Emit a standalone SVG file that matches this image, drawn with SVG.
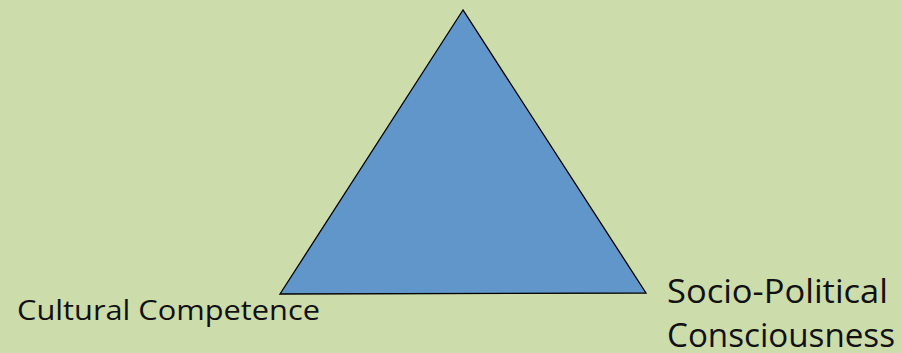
<svg xmlns="http://www.w3.org/2000/svg" width="902" height="353" viewBox="0 0 902 353">
<style>
.lbl{font-family:"Open Sans","Liberation Sans",sans-serif;fill:#111111}
.l{font-size:27px}
.r{font-size:33px}
</style>
<rect x="0" y="0" width="902" height="353" fill="#ccdcaa"/>
<g id="triangle">
<polygon points="463,10 280,294 646,293" fill="#6096c9" stroke="#000000" stroke-width="1.3"/>
</g>
<g id="connectors"></g>
<g id="cultural-competence">
<text class="lbl l" x="17" y="320" textLength="303" lengthAdjust="spacingAndGlyphs">Cultural Competence</text>
</g>
<g id="socio-political">
<text class="lbl r" x="667" y="303" textLength="221" lengthAdjust="spacingAndGlyphs">Socio-Political</text>
<text class="lbl r" x="667" y="347" textLength="228" lengthAdjust="spacingAndGlyphs">Consciousness</text>
</g>
</svg>
